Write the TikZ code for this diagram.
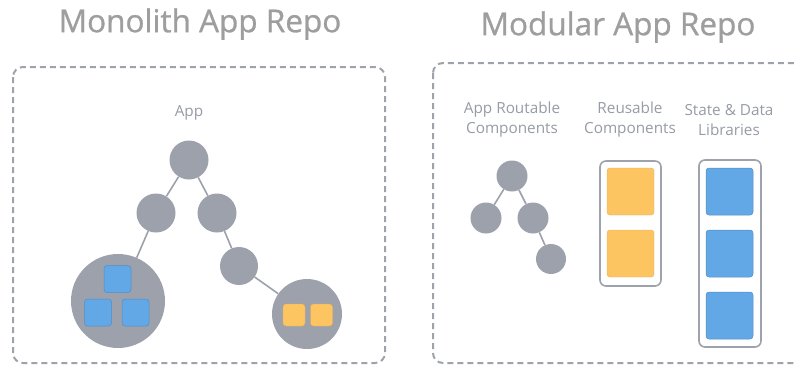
\documentclass[tikz,border=0pt]{standalone}
\usepackage{fontspec}
\setmainfont{Open Sans}
\newfontfamily\headfont[FakeBold=0.9]{Open Sans}
\usetikzlibrary{positioning}
\definecolor{treegray}{RGB}{156,161,172}
\definecolor{framegray}{RGB}{158,162,171}
\definecolor{titlegray}{RGB}{158,158,158}
\definecolor{labelgray}{RGB}{150,155,165}
\definecolor{modblue}{RGB}{98,167,230}
\definecolor{modyellow}{RGB}{253,196,98}

\begin{document}
\begin{tikzpicture}[x=1pt, y=-1pt,
    title/.style={text=titlegray, font=\headfont\fontsize{31.5}{36}\selectfont},
    caption/.style={text=labelgray, font=\fontsize{15.3}{20}\selectfont, align=center},
    repo/.style={draw=framegray, line width=2pt, dash pattern=on 6pt off 4pt, rounded corners=10pt},
    treenode/.style={circle, fill=treegray, inner sep=0pt, minimum size=#1},
    link/.style={draw=treegray, line width=1.6pt},
    bluebox/.style={fill=modblue, draw=modblue!85!black, line width=0.5pt, rounded corners=3pt, minimum size=#1, inner sep=0pt},
    yellowbox/.style={fill=modyellow, draw=modyellow!90!black, line width=0.4pt, rounded corners=3pt, minimum size=#1, inner sep=0pt},
    column/.style={draw=framegray, line width=1.6pt, rounded corners=6pt}]

  \useasboundingbox (0,0) rectangle (794,367);
  \clip (0,0) rectangle (794,367);

  % titles
  \node[title] (montitle) at (200,24) {Monolith App Repo};
  \node[title] (modtitle) at (618,27) {Modular App Repo};

  % monolith repo
  \draw[repo] (13,67) rectangle (385,363);
  \node[caption] (applabel) at (189,113) {App};

  \node[treenode=39pt] (root) at (189,160) {};
  \node[treenode=39pt] (left) at (156,213) {};
  \node[treenode=39pt] (right) at (217,213) {};
  \node[treenode=38pt] (rightlow) at (239,266) {};
  \node[treenode=94pt] (bigleft) at (118,301) {};
  \node[treenode=70pt] (bigright) at (307,314) {};

  \draw[link] (root) -- (left);
  \draw[link] (root) -- (right);
  \draw[link] (left) -- (bigleft);
  \draw[link] (right) -- (rightlow);
  \draw[link] (rightlow) -- (bigright);

  \node[bluebox=27pt] (blueA) at (117.5,279) {};
  \node[bluebox=27pt] (blueB) at (98,312.5) {};
  \node[bluebox=27pt] (blueC) at (135.5,312.5) {};
  \node[yellowbox=22pt] (yellowA) at (294,315) {};
  \node[yellowbox=22pt] (yellowB) at (321.5,315) {};

  % modular repo
  \draw[repo] (433,63) rectangle (830,363);

  \node[caption] (routelabel) at (512,120) {App Routable\\Components};
  \node[caption] (reuselabel) at (630,120) {Reusable\\Components};
  \node[caption] (statelabel) at (729,120) {State \& Data\\Libraries};

  \node[treenode=31pt] (sroot) at (512,176) {};
  \node[treenode=31pt] (sleft) at (486,218) {};
  \node[treenode=31pt] (sright) at (533,218) {};
  \node[treenode=30pt] (srightlow) at (551,259) {};
  \draw[link] (sroot) -- (sleft);
  \draw[link] (sroot) -- (sright);
  \draw[link] (sright) -- (srightlow);

  \draw[column] (600,161) rectangle (661,286);
  \draw[column] (699,160) rectangle (761,347);
  \foreach \y [count=\i] in {191.5,253.5} {
    \node[yellowbox=47pt] (reuse\i) at (630.5,\y) {};
  }
  \foreach \y [count=\i] in {191.5,253.5,315.5} {
    \node[bluebox=47pt] (state\i) at (729.5,\y) {};
  }
\end{tikzpicture}
\end{document}
